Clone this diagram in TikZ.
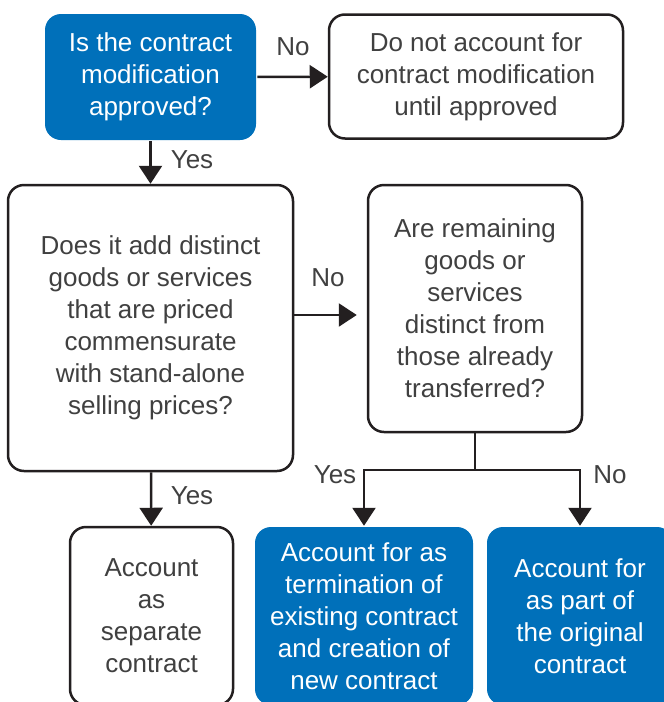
\documentclass[tikz,border=0pt]{standalone}
\usepackage{fontspec}
\setmainfont{Liberation Sans}
\usepackage{tikz}
\usetikzlibrary{arrows.meta, positioning}
\definecolor{kblue}{HTML}{0070BA}
\definecolor{ktext}{HTML}{404040}
\definecolor{kline}{HTML}{231F20}
\tikzset{
->, % every connector is directed
>={Triangle[width=23pt,length=18pt]}, % the wide filled arrow heads
every node/.style={font=\fontsize{26}{32}\selectfont, align=center, text=ktext}, % text of the boxes and labels
box/.style={rounded corners=16pt, inner sep=0pt, draw=kline, fill=white}, % plain rounded box
bluebox/.style={box, draw=none, fill=kblue, text=white}, % filled box
}

\begin{document}
\begin{tikzpicture}[x=1pt, y=-1pt, line width=2.5pt, draw=kline]
        %% The picture is laid out in pixels of the page, y runs downwards
        \useasboundingbox (0,0) rectangle (664,702);
        \clip (0,0) rectangle (664,702);
        %% The boxes
        \node[bluebox, minimum width=211pt, minimum height=126pt] (approved) at (150.5,77) {Is the contract\\modification\\approved?};
        \node[box, minimum width=294pt, minimum height=124pt] (wait) at (476,76.5) {Do not account for\\contract modification\\until approved};
        \node[box, minimum width=285pt, minimum height=286pt] (distinct) at (150.5,328) {Does it add distinct\\goods or services\\that are priced\\commensurate\\with stand-alone\\selling prices?};
        \node[box, minimum width=214pt, minimum height=247pt] (remaining) at (475,308.5) {Are remaining\\goods or\\services\\distinct from\\those already\\transferred?};
        \node[box, minimum width=163pt, minimum height=178pt] (separate) at (151.5,616) {Account\\as\\separate\\contract};
        \node[bluebox, minimum width=218pt, minimum height=178pt] (termination) at (364,616) {Account for as\\termination of\\existing contract\\and creation of\\new contract};
        \node[bluebox, minimum width=186pt, minimum height=178pt] (original) at (580,616) {Account for\\as part of\\the original\\contract};
        %% The connectors
        \draw (approved) -- (wait);
        \draw (approved) -- (distinct);
        \draw[shorten >=10pt] (distinct.east |- 0,315) -- (remaining.west |- 0,315);
        \draw (distinct) -- (separate);
        \coordinate (split) at (475,470);
        \draw[-] (remaining) -- (split);
        \draw (split) -| (termination);
        \draw (split) -| (original);
        %% The labels on the connectors
        \node (noA) at (293,47) {No};
        \node (yesA) at (192,160) {Yes};
        \node (noB) at (328,278) {No};
        \node (yesB) at (192,496) {Yes};
        \node (yesC) at (335,475) {Yes};
        \node (noC) at (610,475) {No};
    \end{tikzpicture}
\end{document}
